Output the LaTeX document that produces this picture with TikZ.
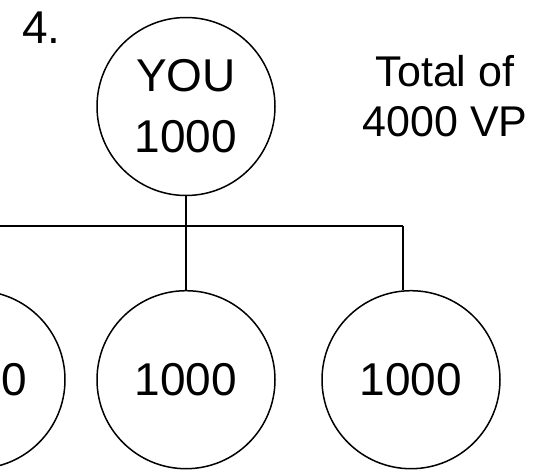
\documentclass[tikz,border=0pt]{standalone}
\usepackage{fontspec}
\setmainfont{Liberation Sans}
\begin{document}
\begin{tikzpicture}[x=1pt,y=-1pt,
  vp/.style={circle,draw,line width=1.5pt,minimum size=178pt,inner sep=0pt,
    align=center,font=\fontsize{46}{61}\selectfont},
  conn/.style={line width=1.5pt},
  lbl/.style={inner sep=0pt,align=center}]
\useasboundingbox (0,0) rectangle (544,469);
\clip (0,0) rectangle (544,469);
\node[vp] (you) at (186,106.5) {YOU\\1000};
\node[vp] (left) at (-24,379.7) {1000};
\node[vp] (mid) at (186,379.7) {1000};
\node[vp] (right) at (411,379.7) {1000};
\node[lbl,anchor=base west,font=\fontsize{46}{55}\selectfont] (num) at (22,43) {4.};
\node[lbl,anchor=north,font=\fontsize{43}{50}\selectfont] (total) at (445,55) {Total of\\4000 VP};
\coordinate (j) at (186,226);
\coordinate (lj) at (-24,226);
\coordinate (rj) at (403,226);
\draw[conn] (you.south) -- (j);
\draw[conn] (lj) -- (rj);
\draw[conn] (j) -- (mid.north);
\draw[conn] (lj) -- (left.north);
\draw[conn] (rj) -- (rj |- right.north);
\end{tikzpicture}
\end{document}
